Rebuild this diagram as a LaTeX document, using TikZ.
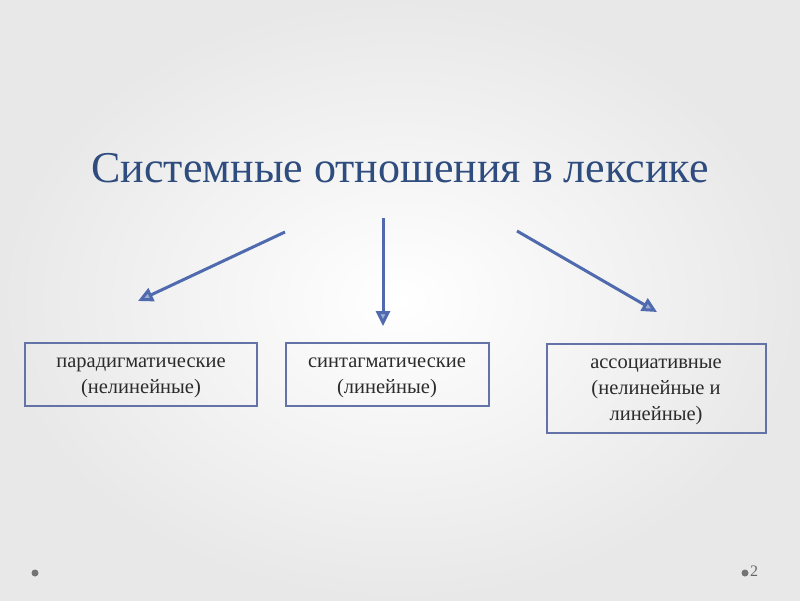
\documentclass[tikz,border=0pt]{standalone}
\usepackage{fontspec}
\setmainfont{Liberation Serif}
\usetikzlibrary{arrows.meta}
\definecolor{ttl}{HTML}{2F4C7E}
\definecolor{ln}{HTML}{4F6AAE}
\definecolor{bx}{HTML}{6373A8}
\definecolor{txt}{HTML}{2B2B2B}
\tikzset{x=1pt,y=-1pt,
 box/.style={draw=bx,line width=1.8pt,text=txt,font=\fontsize{20.5}{26}\selectfont,align=center,anchor=north west,inner sep=0pt},
 lbl/.style={text=txt,font=\fontsize{20.5}{26}\selectfont,align=center,anchor=north,inner sep=0pt},
 arr/.style={draw=ln,line width=3pt,-{Triangle[length=15pt,width=14pt,fill=ln!55]}}}
\begin{document}
\begin{tikzpicture}
\shade[inner color=white,outer color=black!9] (0,0) rectangle (800,600);
\useasboundingbox (0,0) rectangle (800,600);
\node[text=ttl,font=\fontsize{44}{50}\selectfont] (t) at (400,168) {Системные отношения в лексике};
\draw[box] (25,343) rectangle (257,406);
\draw[box] (286,343) rectangle (489,406);
\draw[box] (547,344) rectangle (766,433);
\node[lbl] (a) at (141,358) {парадигматические\\(нелинейные)};
\node[lbl] (b) at (387,358) {синтагматические\\(линейные)};
\node[lbl] (c) at (656,359) {ассоциативные\\(нелинейные и\\линейные)};
\coordinate (s1) at (285,232); \coordinate (e1) at (138,301);
\coordinate (s2) at (383,218); \coordinate (e2) at (383,326);
\coordinate (s3) at (517,231); \coordinate (e3) at (657,312);
\draw[arr] (s1) -- (e1);
\draw[arr] (s2) -- (e2);
\draw[arr] (s3) -- (e3);
\fill[black!55] (35,573) circle (3.5pt);
\fill[black!55] (745,573) circle (3.5pt);
\node[text=black!60,font=\fontsize{16}{18}\selectfont,anchor=west,inner sep=0pt] (n) at (750,571) {2};
\end{tikzpicture}
\end{document}
